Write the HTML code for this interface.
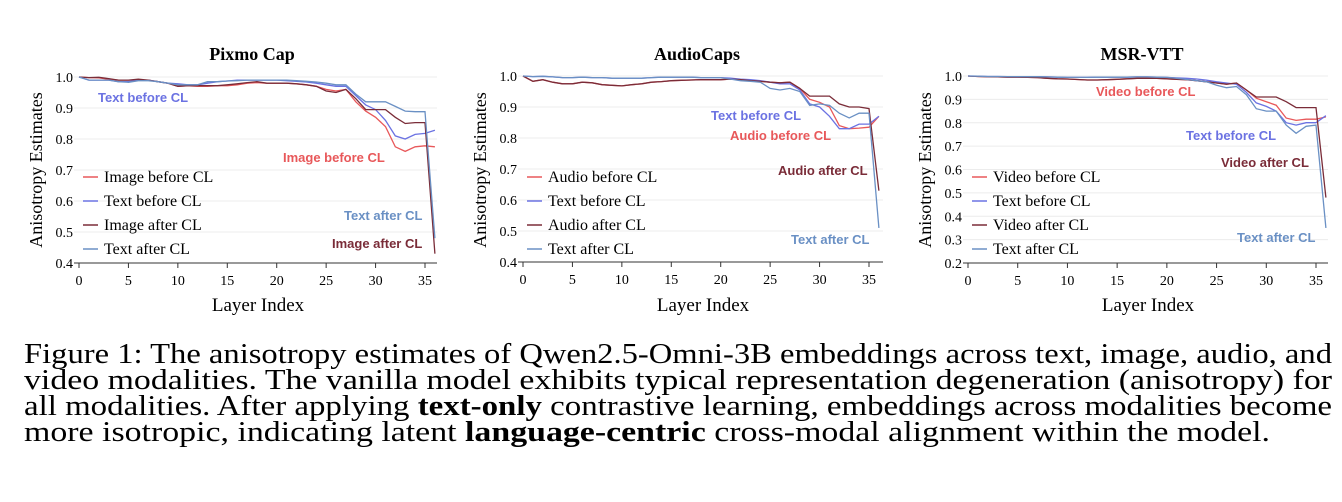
<!DOCTYPE html>
<html><head><meta charset="utf-8">
<style>
body{margin:0;background:#fff;width:1342px;height:502px;overflow:hidden;position:relative}
svg{position:absolute;left:0;top:0}
.cap{position:absolute;left:24px;font-family:"Liberation Serif",serif;font-size:28px;line-height:26px;white-space:nowrap;color:#000;transform-origin:0 0}
</style></head><body>
<svg id="s" width="1342" height="330" xmlns="http://www.w3.org/2000/svg"></svg>
<div class="cap" data-w="1308" style="top:342px">Figure 1: The anisotropy estimates of Qwen2.5-Omni-3B embeddings across text, image, audio, and</div>
<div class="cap" data-w="1308" style="top:368px">video modalities. The vanilla model exhibits typical representation degeneration (anisotropy) for</div>
<div class="cap" data-w="1308" style="top:394px">all modalities. After applying <b>text-only</b> contrastive learning, embeddings across modalities become</div>
<div class="cap" data-w="1246" style="top:420px">more isotropic, indicating latent <b>language-centric</b> cross-modal alignment within the model.</div>
<script>
document.querySelectorAll(".cap").forEach(e=>{const w=e.getBoundingClientRect().width;e.style.transform="scaleX("+(+e.dataset.w/w)+")";});
const C={r:"#e8585a",b:"#6b72e2",d:"#7a2c38",s:"#6a90c4"};
const panels=[
{title:"Pixmo Cap",x0:79,x35:425,yTop:77,yBot:263,ymin:0.4,ticks:[0.4,0.5,0.6,0.7,0.8,0.9,1.0],gridR:437,legX:83,
 names:["Image before CL","Text before CL","Image after CL","Text after CL"],
 data:[
 [1,.998,.997,.993,.99,.99,.99,.99,.985,.98,.97,.972,.97,.97,.972,.972,.975,.98,.982,.98,.98,.98,.978,.975,.97,.96,.955,.96,.92,.89,.87,.84,.775,.76,.775,.778,.775],
 [1,.99,.99,.99,.985,.985,.99,.99,.985,.98,.978,.975,.975,.98,.985,.987,.99,.99,.99,.99,.99,.988,.986,.984,.98,.975,.97,.97,.94,.91,.895,.86,.81,.80,.815,.818,.828],
 [1,.998,.999,.995,.99,.99,.993,.99,.985,.98,.97,.972,.972,.972,.972,.975,.978,.982,.985,.98,.98,.98,.978,.975,.97,.955,.95,.96,.93,.895,.895,.895,.87,.85,.853,.853,.43],
 [1,.99,.99,.99,.985,.983,.988,.988,.985,.98,.975,.975,.975,.985,.985,.987,.988,.99,.99,.99,.99,.99,.988,.986,.984,.98,.975,.975,.945,.92,.92,.92,.905,.89,.888,.888,.48]],
 labels:[["Image before CL",283,162,"r"],["Text before CL",98,102,"b"],["Image after CL",332,248,"d"],["Text after CL",344,220,"s"]]},
{title:"AudioCaps",x0:523,x35:869,yTop:76,yBot:262,ymin:0.4,ticks:[0.4,0.5,0.6,0.7,0.8,0.9,1.0],gridR:883,legX:527,
 names:["Audio before CL","Text before CL","Audio after CL","Text after CL"],
 data:[
 [1,.983,.988,.98,.975,.975,.98,.978,.972,.97,.968,.972,.975,.98,.982,.985,.986,.987,.988,.988,.988,.99,.988,.985,.983,.98,.978,.98,.96,.925,.915,.9,.84,.83,.832,.835,.87],
 [1,.998,.999,.997,.995,.995,.996,.995,.995,.993,.993,.993,.993,.995,.996,.996,.996,.996,.995,.995,.995,.993,.99,.988,.985,.98,.975,.975,.955,.91,.9,.87,.83,.83,.845,.845,.87],
 [1,.983,.988,.98,.975,.975,.98,.978,.972,.97,.968,.972,.975,.98,.982,.985,.986,.987,.988,.988,.988,.99,.988,.985,.983,.98,.978,.98,.96,.935,.935,.935,.91,.9,.9,.895,.63],
 [1,.998,.999,.997,.995,.995,.996,.995,.995,.993,.993,.993,.993,.995,.996,.996,.996,.996,.995,.995,.995,.99,.985,.983,.98,.96,.955,.96,.95,.905,.91,.905,.88,.865,.88,.88,.51]],
 labels:[["Audio before CL",730,140,"r"],["Text before CL",711,120,"b"],["Audio after CL",778,175,"d"],["Text after CL",791,244,"s"]]},
{title:"MSR-VTT",x0:968,x35:1316,yTop:76,yBot:263,ymin:0.2,ticks:[0.2,0.3,0.4,0.5,0.6,0.7,0.8,0.9,1.0],gridR:1328,legX:972,
 names:["Video before CL","Text before CL","Video after CL","Text after CL"],
 data:[
 [1,.998,.997,.996,.995,.995,.994,.993,.99,.988,.987,.985,.983,.983,.984,.986,.988,.99,.99,.99,.988,.986,.984,.98,.975,.97,.965,.97,.94,.905,.89,.875,.82,.81,.815,.815,.825],
 [1,.999,.998,.998,.997,.997,.997,.997,.996,.995,.994,.994,.994,.995,.995,.995,.995,.996,.996,.995,.994,.992,.99,.987,.982,.975,.97,.965,.93,.885,.87,.85,.80,.79,.80,.80,.83],
 [1,.998,.997,.996,.995,.995,.994,.993,.99,.988,.987,.985,.983,.983,.984,.986,.988,.99,.99,.99,.988,.986,.984,.98,.975,.97,.965,.97,.94,.91,.91,.91,.89,.865,.865,.865,.48],
 [1,.999,.998,.998,.997,.997,.997,.997,.996,.995,.994,.994,.994,.995,.995,.995,.995,.996,.996,.995,.994,.99,.985,.98,.975,.96,.95,.955,.92,.86,.85,.85,.79,.755,.785,.79,.35]],
 labels:[["Video before CL",1096,96,"r"],["Text before CL",1186,140,"b"],["Video after CL",1221,167,"d"],["Text after CL",1237,242,"s"]]}
];
const keys=["r","b","d","s"];
let h="";
for(const p of panels){
 const sx=(p.x35-p.x0)/35, sy=(p.yBot-p.yTop)/(1-p.ymin);
 const X=i=>p.x0+i*sx, Y=v=>p.yBot-(v-p.ymin)*sy;
 for(const t of p.ticks){const y=Y(t);
  if(t>p.ymin+1e-6) h+=`<line x1="${p.x0-5}" x2="${p.gridR}" y1="${y}" y2="${y}" stroke="#ececec" stroke-width="1"/>`;
  h+=`<text x="${p.x0-6}" y="${y+5}" text-anchor="end" font-family="Liberation Serif,serif" font-size="14">${t.toFixed(1)}</text>`;}
 h+=`<line x1="${p.x0-5}" x2="${p.gridR}" y1="${p.yBot}" y2="${p.yBot}" stroke="#333" stroke-width="1"/>`;
 for(let i=0;i<=35;i+=5){const x=X(i);
  h+=`<line x1="${x}" x2="${x}" y1="${p.yBot}" y2="${p.yBot+5}" stroke="#333"/>`;
  h+=`<text x="${x}" y="${p.yBot+22}" text-anchor="middle" font-family="Liberation Serif,serif" font-size="14">${i}</text>`;}
 const cx=(p.x0+p.gridR)/2;
 h+=`<text x="${cx-6}" y="60" text-anchor="middle" font-family="Liberation Serif,serif" font-weight="bold" font-size="18">${p.title}</text>`;
 h+=`<text x="${cx}" y="311" text-anchor="middle" font-family="Liberation Serif,serif" font-size="19">Layer Index</text>`;
 const lx=p.x0-37;
 h+=`<text transform="translate(${lx},170) rotate(-90)" text-anchor="middle" font-family="Liberation Serif,serif" font-size="18">Anisotropy Estimates</text>`;
 p.data.forEach((d,k)=>{
  h+=`<polyline fill="none" stroke="${C[keys[k]]}" stroke-width="1.3" points="${d.map((v,i)=>X(i).toFixed(1)+","+Y(v).toFixed(1)).join(" ")}"/>`;});
 p.names.forEach((n,k)=>{const y=177+k*24;
  h+=`<line x1="${p.legX}" x2="${p.legX+15}" y1="${y}" y2="${y}" stroke="${C[keys[k]]}" stroke-width="1.5"/>`;
  h+=`<text x="${p.legX+21}" y="${y+5}" font-family="Liberation Serif,serif" font-size="16">${n}</text>`;});
 for(const l of p.labels) h+=`<text x="${l[1]}" y="${l[2]}" font-family="Liberation Sans,sans-serif" font-weight="bold" font-size="13" fill="${C[l[3]]}">${l[0]}</text>`;
}
document.getElementById("s").innerHTML=h;
</script>
</body></html>
